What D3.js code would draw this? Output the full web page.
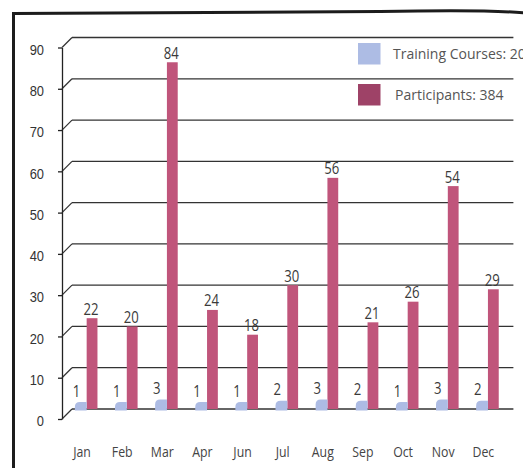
<!DOCTYPE html>
<html>
<head>
<meta charset="utf-8">
<script src="https://cdn.jsdelivr.net/npm/d3@7"></script>
<style>
html,body{margin:0;padding:0;background:#fff;overflow:hidden;}
svg{display:block;}
</style>
</head>
<body>
<svg id="chart" width="523" height="468"></svg>
<script>
const categories = ["Jan","Feb","Mar","Apr","Jun","Jul","Aug","Sep","Oct","Nov","Dec"];
const courses = [1,1,3,1,1,2,3,2,1,3,2];
const participants = [22,20,84,24,18,30,56,21,26,54,29];
const yTicks = [0,10,20,30,40,50,60,70,80,90];
const legendLabels = ["Training Courses: 20","Participants: 384"];
const legendColors = ["#adbce4","#9e4267"];

const svg = d3.select("#chart");
const depth = 10;
const x = d3.scaleBand().domain(categories).range([72, 513.4]);
const y = d3.scaleLinear().domain([0, 90]).range([409, 37.5]);
const yb = d3.scaleLinear().domain([0, 3]).range([5, 11]).domain([0, 1, 3]).range([0, 8.5, 11]);
const cx = c => x(c) + x.bandwidth() / 2;

function squeeze(sel, k) {
  sel.each(function () {
    const w = this.getComputedTextLength();
    this.setAttribute("textLength", w * k);
    this.setAttribute("lengthAdjust", "spacingAndGlyphs");
  });
}

// frame
svg.append("path")
  .attr("d", "M13.5,470 L13.5,13.5 L380,11.5 C450,10 500,10.5 525,13")
  .attr("fill", "none").attr("stroke", "#1c1c1c").attr("stroke-width", 3);

// back grid lines
svg.append("g").selectAll("line").data(yTicks).join("line")
  .attr("x1", x.range()[0]).attr("x2", x.range()[1])
  .attr("y1", d => y(d)).attr("y2", d => y(d))
  .attr("stroke", "#333").attr("stroke-width", 1.3);

// diagonal connectors
svg.append("g").selectAll("line").data(yTicks).join("line")
  .attr("x1", x.range()[0] - depth).attr("y1", d => y(d) + depth)
  .attr("x2", x.range()[0]).attr("y2", d => y(d))
  .attr("stroke", "#333").attr("stroke-width", 1.2);

// front axis
const axis = d3.axisLeft(y.copy().range(y.range().map(v => v + depth)))
  .tickValues(yTicks).tickSize(4).tickSizeOuter(0).tickPadding(14);
const ag = svg.append("g").attr("transform", `translate(${x.range()[0] - depth},0)`).call(axis);
ag.select(".domain").attr("stroke", "#222").attr("stroke-width", 1.3);
ag.selectAll(".tick line").attr("stroke", "#222").attr("stroke-width", 1.3);
ag.selectAll(".tick text")
  .attr("font-family", "'Liberation Sans', Arial, sans-serif")
  .attr("font-size", 15).attr("fill", "#333").attr("dy", "0.45em")
  .call(squeeze, 0.86);

// participants bars
const pw = 10.8;
svg.append("g").selectAll("rect").data(participants).join("rect")
  .attr("x", (d, i) => cx(categories[i]) - pw / 2)
  .attr("width", pw)
  .attr("y", d => y(d))
  .attr("height", d => y(0) - y(d))
  .attr("fill", "#c0557b");

// courses bars (rounded front shapes)
svg.append("g").selectAll("path").data(courses).join("path")
  .attr("d", (d, i) => {
    const x1 = cx(categories[i]) - pw / 2, x0 = x1 - 11.8;
    const base = y(0) + 1.5, top = base - yb(d), r = Math.min(5, yb(d));
    return `M${x0},${base} L${x0},${top + r} Q${x0},${top} ${x0 + r},${top} L${x1},${top} L${x1},${base} Z`;
  })
  .attr("fill", "#adbce4");

// value labels
const lblFont = "'Open Sans', 'Noto Sans', sans-serif";
svg.append("g").selectAll("text").data(participants).join("text")
  .attr("x", (d, i) => cx(categories[i]) - 1)
  .attr("y", d => y(d) - 3.5)
  .attr("text-anchor", "middle")
  .attr("font-family", lblFont).attr("font-size", 16).attr("fill", "#3a3a3a")
  .text(d => d)
  .call(squeeze, 0.82);

svg.append("g").selectAll("text").data(courses).join("text")
  .attr("x", (d, i) => cx(categories[i]) - 15.5)
  .attr("y", d => y(0) + 1.5 - yb(d) - 5.5)
  .attr("text-anchor", "middle")
  .attr("font-family", lblFont).attr("font-size", 16).attr("fill", "#3a3a3a")
  .text(d => d)
  .call(squeeze, 0.82);

// category labels
svg.append("g").selectAll("text").data(categories).join("text")
  .attr("x", d => cx(d) - depth)
  .attr("y", 456.5)
  .attr("text-anchor", "middle")
  .attr("font-family", lblFont).attr("font-size", 15).attr("fill", "#444")
  .text(d => d)
  .call(squeeze, 0.82);

// legend
const lg = svg.append("g").selectAll("g").data(legendLabels).join("g")
  .attr("transform", (d, i) => `translate(358,${43 + i * 41})`);
lg.append("rect").attr("width", 22.5).attr("height", 21.5)
  .attr("fill", (d, i) => legendColors[i]);
lg.append("text")
  .attr("x", (d, i) => 35 + i * 2).attr("y", 16.3)
  .attr("font-family", lblFont).attr("font-size", 14).attr("fill", "#555")
  .text(d => d);
</script>
</body>
</html>
